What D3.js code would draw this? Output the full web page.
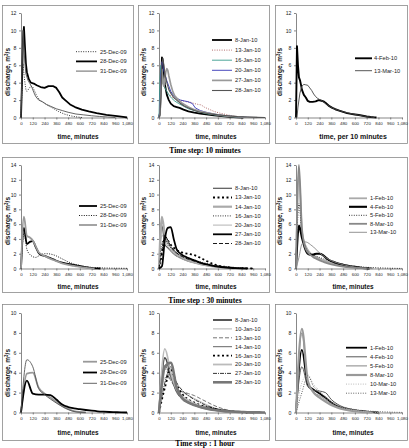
<!DOCTYPE html>
<html><head><meta charset="utf-8">
<script src="https://cdn.jsdelivr.net/npm/d3@7"></script>
<style>body{margin:0;background:#fff}</style>
</head><body>
<svg id="c" width="409" height="448"></svg>
<script>
// ---------- tick labels / texts ----------
const xTicks = [0,120,240,360,480,600,720,840,960,1080];
const yTicksR1 = [0,2,4,6,8,10,12];
const yTicksR2 = [0,2,4,6,8,10,12,14];
const yTicksR3 = [0,2,4,6,8,10];
const captions = ["Time step: 10 minutes","Time step : 30 minutes","Time step : 1 hour"];
const xTitles = ["time, minutes","time, minutes","time, per 10 minutes",
                 "time, minutes","time, minutes","time, minutes",
                 "time, minutes","time, minutes","time, minutes"];

// ---------- Row 1 : 10 minute step ----------
const r1c1Names = ["25-Dec-09","28-Dec-09","31-Dec-09"];
const r1c1_25Dec = [[0,0],[10,3],[20,6.2],[30,5],[40,4],[50,3.2],[60,3.0],[80,3.3],[100,3.6],[120,3.5],[140,3.0],[160,2.5],[190,2.0],[230,1.7],[270,1.4],[320,1.1],[380,0.7],[440,0.4],[500,0.2],[560,0.08],[620,0]];
const r1c1_28Dec = [[0,0],[10,4],[20,9],[30,10.4],[40,8.2],[50,6.2],[60,5.2],[80,4.4],[100,4.0],[130,3.9],[160,3.7],[200,3.5],[240,3.4],[280,3.6],[330,3.6],[360,3.4],[390,2.9],[420,2.3],[450,2.0],[500,1.5],[550,1.2],[620,0.9],[690,0.7],[770,0.5],[870,0.3],[980,0.15],[1060,0.05],[1080,0]];
const r1c1_31Dec = [[0,0],[10,5],[20,10.0],[30,8],[40,6.2],[50,5.0],[70,4.3],[90,3.9],[110,3.5],[130,2.9],[150,2.4],[180,2.0],[220,1.8],[260,1.5],[300,1.3],[360,1.0],[420,0.8],[480,0.6],[560,0.4],[640,0.3],[720,0.2],[800,0.12],[880,0.06],[960,0]];

const r1c2Names = ["8-Jan-10","13-Jan-10","16-Jan-10","20-Jan-10","27-Jan-10","28-Jan-10"];
const r1c2_8Jan = [[0,0],[10,0.5],[20,4],[30,6.9],[40,6.5],[50,5],[60,3.8],[80,2.6],[100,2.0],[120,1.6],[150,1.3],[180,1.2],[210,1.1],[250,0.9],[300,0.7],[360,0.55],[420,0.45],[480,0.35],[560,0.25],[640,0.15],[720,0.08],[800,0.03],[860,0]];
const r1c2_13Jan = [[0,0],[10,0.5],[20,3],[30,5],[40,4.2],[50,3.8],[60,3.5],[80,3.0],[100,2.7],[130,2.4],[160,2.2],[200,2.0],[240,1.9],[280,1.8],[320,1.75],[360,1.6],[400,1.5],[430,1.45],[460,1.2],[500,1.0],[560,0.7],[620,0.5],[680,0.35],[740,0.2],[800,0.1],[860,0.05],[940,0]];
const r1c2_16Jan = [[0,0],[10,4.5],[20,6.0],[30,5.0],[40,4.0],[60,3.4],[80,3.0],[100,2.6],[130,2.2],[160,1.9],[200,1.6],[250,1.3],[300,1.0],[360,0.8],[420,0.6],[500,0.4],[600,0.25],[700,0.12],[800,0.05],[900,0]];
const r1c2_20Jan = [[0,0],[10,1],[20,5],[30,6.4],[40,6.0],[50,5.3],[60,5.0],[80,4.2],[100,3.6],[120,3.0],[150,2.5],[180,2.2],[220,2.0],[260,1.9],[300,1.8],[340,1.6],[370,1.1],[420,0.8],[480,0.6],[560,0.4],[640,0.25],[720,0.15],[800,0.08],[900,0.02],[960,0]];
const r1c2_27Jan = [[0,0],[10,0.3],[20,3],[30,5.5],[40,4.0],[50,3.6],[60,4.5],[70,5.3],[80,5.6],[90,5.4],[100,4.8],[120,3.8],[140,3.0],[160,2.5],[200,2.0],[240,1.6],[300,1.2],[360,0.9],[420,0.7],[500,0.5],[600,0.3],[700,0.15],[800,0.08],[900,0.03],[1000,0]];
const r1c2_28Jan = [[0,0],[10,0.3],[20,2.5],[30,6.2],[40,6.8],[50,6.0],[60,5.0],[80,4.0],[100,3.2],[120,2.8],[150,2.3],[180,2.0],[220,1.6],[260,1.3],[300,1.1],[360,0.8],[420,0.6],[500,0.45],[600,0.3],[700,0.2],[800,0.1],[900,0.05],[1000,0.02],[1080,0]];

const r1c3Names = ["4-Feb-10","13-Mar-10"];
const r1c3_4Feb = [[0,0],[10,8.2],[20,6],[30,4.6],[40,4.3],[50,3.8],[60,3.2],[80,2.6],[100,2.3],[120,1.9],[140,1.8],[170,1.8],[200,1.85],[230,2.0],[250,1.95],[280,1.85],[300,1.7],[320,1.5],[340,1.3],[370,1.1],[400,0.95],[440,0.8],[480,0.65],[520,0.5],[560,0.42],[600,0.35],[640,0.28],[680,0.2],[720,0.12],[760,0.06],[800,0.02],[820,0]];
const r1c3_13Mar = [[0,0],[10,0],[20,1.2],[40,2.8],[60,3.6],[80,3.8],[100,3.75],[120,3.7],[140,3.4],[160,3.1],[180,2.7],[200,2.4],[220,2.2],[250,2.0],[280,1.8],[310,1.5],[340,1.3],[370,1.1],[400,0.95],[440,0.8],[480,0.65],[520,0.55],[560,0.45],[600,0.35],[640,0.27],[680,0.18],[720,0.1],[760,0.05],[800,0]];

// ---------- Row 2 : 30 minute step ----------
const r2c1Names = ["25-Dec-09","28-Dec-09","31-Dec-09"];
const r2c1_25Dec = [[0,0],[30,5.5],[60,3.3],[90,3.6],[120,3.7],[150,2.9],[180,2.1],[210,1.8],[240,1.7],[270,1.55],[300,1.4],[330,1.25],[360,1.05],[390,0.9],[420,0.8],[450,0.7],[480,0.62],[510,0.55],[540,0.48],[570,0.4],[600,0.32],[630,0.25],[660,0.18],[690,0.12],[720,0.07],[750,0.03],[780,0.01],[810,0]];
const r2c1_28Dec = [[0,0],[30,4.8],[60,2.6],[90,1.9],[120,1.6],[150,1.5],[180,1.7],[210,1.9],[240,2.0],[270,2.0],[300,1.95],[330,1.85],[360,1.7],[390,1.5],[420,1.3],[450,1.1],[480,0.9],[510,0.75],[540,0.6],[570,0.5],[600,0.4],[630,0.32],[660,0.25],[690,0.2],[720,0.15],[780,0.1],[840,0.07],[900,0.05],[960,0.04],[1020,0.03],[1080,0.02]];
const r2c1_31Dec = [[0,0],[30,7.0],[60,4.4],[90,4.2],[120,3.8],[150,3.0],[180,2.2],[210,1.9],[240,1.7],[270,1.5],[300,1.3],[330,1.15],[360,1.0],[390,0.85],[420,0.7],[450,0.6],[480,0.5],[510,0.42],[540,0.35],[570,0.28],[600,0.22],[630,0.15],[660,0.1],[690,0.05],[720,0.02],[750,0]];

const r2c2Names = ["8-Jan-10","13-Jan-10","14-Jan-10","16-Jan-10","20-Jan-10","27-Jan-10","28-Jan-10"];
const r2c2_8Jan = [[0,0],[30,5.8],[60,3.2],[90,2.8],[120,2.4],[150,2.0],[180,1.7],[210,1.5],[240,1.3],[270,1.15],[300,1.0],[330,0.9],[360,0.8],[420,0.6],[480,0.45],[540,0.33],[600,0.23],[660,0.15],[720,0.09],[780,0.05],[840,0.02],[900,0]];
const r2c2_13Jan = [[0,0],[30,2.0],[60,4.2],[90,3.8],[120,3.2],[150,2.8],[180,2.5],[210,2.3],[240,2.15],[270,2.05],[300,2.0],[330,1.9],[360,1.8],[390,1.65],[420,1.45],[450,1.25],[480,1.05],[510,0.85],[540,0.68],[570,0.52],[600,0.4],[660,0.25],[720,0.15],[780,0.08],[840,0.04],[900,0.02],[960,0]];
const r2c2_14Jan = [[0,0],[30,7.0],[60,4.5],[90,3.5],[120,2.9],[150,2.4],[180,2.0],[210,1.7],[240,1.5],[270,1.3],[300,1.1],[360,0.85],[420,0.62],[480,0.45],[540,0.32],[600,0.22],[660,0.14],[720,0.08],[780,0.04],[840,0]];
const r2c2_16Jan = [[0,0],[30,3.5],[60,4.0],[90,3.4],[120,2.8],[150,2.4],[180,2.1],[210,1.9],[240,1.7],[270,1.55],[300,1.4],[360,1.15],[420,0.9],[480,0.7],[540,0.52],[600,0.38],[660,0.27],[720,0.18],[780,0.12],[840,0.07],[900,0.04],[960,0]];
const r2c2_20Jan = [[0,0],[30,4.5],[60,3.8],[90,3.0],[120,2.4],[150,2.0],[180,1.7],[210,1.45],[240,1.25],[270,1.1],[300,0.95],[360,0.72],[420,0.52],[480,0.38],[540,0.27],[600,0.18],[660,0.11],[720,0.06],[780,0.02],[840,0]];
const r2c2_27Jan = [[0,0],[30,0.3],[60,4.0],[90,5.5],[120,5.6],[150,4.0],[180,2.6],[210,2.1],[240,1.8],[270,1.6],[300,1.4],[330,1.25],[360,1.1],[390,0.95],[420,0.8],[480,0.58],[540,0.4],[600,0.27],[660,0.17],[720,0.1],[780,0.05],[840,0.02],[900,0]];
const r2c2_28Jan = [[0,0],[30,2.5],[60,4.5],[90,3.8],[120,3.0],[150,2.5],[180,2.1],[210,1.8],[240,1.6],[270,1.4],[300,1.25],[360,1.0],[420,0.75],[480,0.55],[540,0.4],[600,0.28],[660,0.18],[720,0.11],[780,0.06],[840,0.03],[900,0]];

const r2c3Names = ["1-Feb-10","4-Feb-10","5-Feb-10","8-Mar-10","13-Mar-10"];
const r2c3_1Feb = [[0,0],[30,12.8],[60,5.0],[90,3.3],[120,2.5],[150,2.0],[180,1.7],[210,1.5],[240,1.3],[270,1.15],[300,1.0],[360,0.75],[420,0.55],[480,0.4],[540,0.28],[600,0.18],[660,0.1],[720,0.05],[780,0]];
const r2c3_4Feb = [[0,0],[30,5.8],[60,4.2],[90,2.8],[120,2.0],[150,1.85],[180,1.9],[210,2.0],[240,2.0],[270,1.85],[300,1.5],[330,1.2],[360,1.0],[390,0.85],[420,0.7],[450,0.6],[480,0.5],[540,0.35],[600,0.22],[660,0.1],[720,0.03],[750,0]];
const r2c3_5Feb = [[0,0],[30,8.8],[60,4.5],[90,3.0],[120,2.3],[150,2.0],[180,1.8],[210,1.65],[240,1.5],[270,1.35],[300,1.2],[360,0.95],[420,0.75],[480,0.55],[540,0.4],[600,0.3],[660,0.22],[720,0.16],[780,0.12],[840,0.09],[900,0.06],[960,0.04],[1020,0.02],[1080,0.01]];
const r2c3_8Mar = [[0,0],[30,14],[60,5.5],[90,3.0],[120,2.2],[150,1.8],[180,1.5],[210,1.3],[240,1.1],[270,0.95],[300,0.8],[360,0.55],[420,0.38],[480,0.25],[540,0.15],[600,0.08],[660,0.04],[720,0]];
const r2c3_13Mar = [[0,0],[30,1.5],[60,3.3],[90,3.6],[120,3.5],[150,3.2],[180,2.9],[210,2.5],[240,2.1],[270,1.8],[300,1.5],[330,1.25],[360,1.05],[420,0.75],[480,0.5],[540,0.33],[600,0.2],[660,0.1],[720,0.04],[780,0]];

// ---------- Row 3 : 1 hour step ----------
const r3c1Names = ["25-Dec-09","28-Dec-09","31-Dec-09"];
const r3c1_25Dec = [[0,0],[60,3.9],[120,4.0],[180,2.5],[240,1.9],[300,1.5],[360,1.05],[420,0.65],[480,0.35],[540,0.15],[600,0.05],[660,0]];
const r3c1_28Dec = [[0,0],[60,3.2],[120,1.9],[180,1.8],[240,1.8],[300,1.75],[360,1.3],[420,0.8],[480,0.55],[540,0.42],[600,0.33],[660,0.25],[720,0.18],[780,0.12],[840,0.08],[900,0.05],[960,0.03],[1020,0.01],[1080,0]];
const r3c1_31Dec = [[0,0],[60,5.3],[120,4.6],[180,2.4],[240,1.8],[300,1.35],[360,0.95],[420,0.6],[480,0.3],[540,0.1],[600,0.02],[660,0]];

const r3c2Names = ["8-Jan-10","10-Jan-10","13-Jan-10","14-Jan-10","16-Jan-10","20-Jan-10","27-Jan-10","28-Jan-10"];
const r3c2_8Jan = [[0,0],[60,5.5],[120,3.8],[180,2.2],[240,1.5],[300,1.1],[360,0.85],[420,0.65],[480,0.5],[540,0.38],[600,0.28],[660,0.2],[720,0.14],[780,0.09],[840,0.05],[900,0.02],[960,0]];
const r3c2_10Jan = [[0,0],[60,3.5],[120,3.4],[180,2.5],[240,2.0],[300,1.7],[360,1.4],[420,1.1],[480,0.8],[540,0.55],[600,0.35],[660,0.2],[720,0.1],[780,0.05],[840,0]];
const r3c2_13Jan = [[0,0],[60,4.4],[120,3.2],[180,2.4],[240,2.1],[300,1.9],[360,1.7],[420,1.4],[480,1.1],[540,0.8],[600,0.55],[660,0.35],[720,0.2],[780,0.1],[840,0.05],[900,0]];
const r3c2_14Jan = [[0,0],[60,4.7],[120,3.5],[180,2.0],[240,1.3],[300,0.95],[360,0.7],[420,0.5],[480,0.35],[540,0.25],[600,0.17],[660,0.1],[720,0.05],[780,0]];
const r3c2_16Jan = [[0,0],[60,2.5],[120,4.3],[180,2.8],[240,1.8],[300,1.3],[360,1.0],[420,0.75],[480,0.55],[540,0.4],[600,0.3],[660,0.2],[720,0.12],[780,0.07],[840,0.03],[900,0]];
const r3c2_20Jan = [[0,0],[60,6.4],[120,4.0],[180,2.3],[240,1.6],[300,1.2],[360,0.9],[420,0.65],[480,0.45],[540,0.3],[600,0.2],[660,0.12],[720,0.06],[780,0.02],[840,0]];
const r3c2_27Jan = [[0,0],[60,3.0],[120,4.6],[180,3.0],[240,2.2],[300,1.7],[360,1.3],[420,1.0],[480,0.7],[540,0.5],[600,0.33],[660,0.2],[720,0.12],[780,0.06],[840,0.02],[900,0]];
const r3c2_28Jan = [[0,0],[60,4.6],[120,5.0],[180,2.5],[240,1.4],[300,1.0],[360,0.75],[420,0.55],[480,0.4],[540,0.28],[600,0.2],[660,0.14],[720,0.1],[780,0.07],[840,0.05],[900,0.03],[960,0.02],[1020,0.01],[1080,0]];

const r3c3Names = ["1-Feb-10","4-Feb-10","5-Feb-10","8-Mar-10","10-Mar-10","13-Mar-10"];
const r3c3_1Feb = [[0,0],[60,6.3],[120,2.8],[180,2.3],[240,1.9],[300,1.5],[360,1.0],[420,0.65],[480,0.45],[540,0.32],[600,0.22],[660,0.15],[720,0.08],[780,0.03],[840,0]];
const r3c3_4Feb = [[0,0],[60,4.6],[120,2.6],[180,2.2],[240,2.15],[300,2.0],[360,1.3],[420,0.85],[480,0.55],[540,0.38],[600,0.26],[660,0.16],[720,0.08],[780,0.03],[840,0]];
const r3c3_5Feb = [[0,0],[60,8.0],[120,3.0],[180,2.0],[240,1.7],[300,1.3],[360,0.9],[420,0.6],[480,0.4],[540,0.27],[600,0.17],[660,0.1],[720,0.05],[780,0]];
const r3c3_8Mar = [[0,0],[60,8.4],[120,3.2],[180,2.0],[240,1.5],[300,1.1],[360,0.75],[420,0.5],[480,0.33],[540,0.22],[600,0.13],[660,0.07],[720,0.03],[780,0]];
const r3c3_10Mar = [[0,0],[60,3.0],[120,3.8],[180,2.8],[240,2.2],[300,1.6],[360,1.1],[420,0.75],[480,0.5],[540,0.33],[600,0.22],[660,0.14],[720,0.08],[780,0.04],[840,0]];
const r3c3_13Mar = [[0,0],[60,2.0],[120,3.7],[180,2.6],[240,2.1],[300,1.5],[360,1.05],[420,0.75],[480,0.55],[540,0.4],[600,0.3],[660,0.22],[720,0.16],[780,0.12],[840,0.09],[900,0.06],[960,0.04],[1020,0.02],[1080,0.01]];

// ---------- styles (kept apart from data) ----------
const S = (c,w,d) => ({c,w,d:d||null});
const dot = "1,1.4";
const styleR1C1 = [S("#000",0.8,dot),S("#000",1.8),S("#555",0.9)];
const styleR1C2 = [S("#000",1.8),S("#a04848",0.8,dot),S("#3a9c8c",0.9),S("#3535b5",0.9),S("#9a9a9a",1.7),S("#555",1.1)];
const styleR1C3 = [S("#000",1.9),S("#444",0.9)];
const styleR2C1 = [S("#000",1.8),S("#000",0.9,dot),S("#9a9a9a",1.8)];
const styleR2C2 = [S("#555",1.2),S("#000",1.8,"2,2.5"),S("#aaa",2.2),S("#000",0.8,dot),S("#aaa",0.9),S("#000",1.8),S("#000",0.9,"4,2")];
const styleR2C3 = [S("#aaa",1.8),S("#000",2.1),S("#000",0.8,dot),S("#888",1.8),S("#888",0.9)];
const styleR3C1 = [S("#999",1.8),S("#000",1.8),S("#555",0.9)];
const styleR3C2 = [S("#444",1.8),S("#aaa",0.9),S("#666",0.9,"4,2"),S("#555",0.9),S("#000",1.8,"2,2.5"),S("#bbb",1.8),S("#000",0.8,"4,1,1,1"),S("#777",2.6)];
const styleR3C3 = [S("#000",1.8),S("#444",0.9),S("#777",0.9),S("#999",2.2),S("#bbb",1,dot),S("#666",1,dot)];

// ---------- layout ----------
const colPlot = [[21,127],[159,265],[296,402]];
const colBorder = [[2,133],[138,269],[275,407]];
const rowPlot = [[13,117.5],[165,268.5],[313,412.5]];
const rowBorder = [[5,143],[157,292],[304,440]];
const yTitleX = [7.5,144,280];
const yTitleY = [72,221,373];
const xTitleY = [137,287,432.5];
const captionY = [150,300,443.8];

const panels = [
  {r:0,c:0,names:r1c1Names,series:[r1c1_25Dec,r1c1_28Dec,r1c1_31Dec],styles:styleR1C1,yTicks:yTicksR1,leg:{x1:76,x2:97,tx:100,y0:51.7,dy:9.7}},
  {r:0,c:1,names:r1c2Names,series:[r1c2_8Jan,r1c2_13Jan,r1c2_16Jan,r1c2_20Jan,r1c2_27Jan,r1c2_28Jan],styles:styleR1C2,yTicks:yTicksR1,leg:{x1:212,x2:232,tx:235,y0:40,dy:10.1}},
  {r:0,c:2,names:r1c3Names,series:[r1c3_4Feb,r1c3_13Mar],styles:styleR1C3,yTicks:yTicksR1,leg:{x1:355,x2:372,tx:374,y0:58.3,dy:12.4}},
  {r:1,c:0,names:r2c1Names,series:[r2c1_25Dec,r2c1_28Dec,r2c1_31Dec],styles:styleR2C1,yTicks:yTicksR2,leg:{x1:79,x2:97,tx:100,y0:206,dy:9.5}},
  {r:1,c:1,names:r2c2Names,series:[r2c2_8Jan,r2c2_13Jan,r2c2_14Jan,r2c2_16Jan,r2c2_20Jan,r2c2_27Jan,r2c2_28Jan],styles:styleR2C2,yTicks:yTicksR2,leg:{x1:213,x2:232,tx:235,y0:188.3,dy:9.2}},
  {r:1,c:2,names:r2c3Names,series:[r2c3_1Feb,r2c3_4Feb,r2c3_5Feb,r2c3_8Mar,r2c3_13Mar],styles:styleR2C3,yTicks:yTicksR2,leg:{x1:349,x2:367,tx:370,y0:198.3,dy:8.5}},
  {r:2,c:0,names:r3c1Names,series:[r3c1_25Dec,r3c1_28Dec,r3c1_31Dec],styles:styleR3C1,yTicks:yTicksR3,leg:{x1:83,x2:97,tx:100,y0:361.7,dy:10.8}},
  {r:2,c:1,names:r3c2Names,series:[r3c2_8Jan,r3c2_10Jan,r3c2_13Jan,r3c2_14Jan,r3c2_16Jan,r3c2_20Jan,r3c2_27Jan,r3c2_28Jan],styles:styleR3C2,yTicks:yTicksR3,leg:{x1:213,x2:232,tx:235,y0:320,dy:8.9}},
  {r:2,c:2,names:r3c3Names,series:[r3c3_1Feb,r3c3_4Feb,r3c3_5Feb,r3c3_8Mar,r3c3_10Mar,r3c3_13Mar],styles:styleR3C3,yTicks:yTicksR3,leg:{x1:346,x2:367,tx:370,y0:347.7,dy:9.1}}
];

const svg = d3.select("#c");
svg.append("rect").attr("width",409).attr("height",448).attr("fill","#fff");
const SANS = "'Liberation Sans', Arial, sans-serif";
const SERIF = "'Liberation Serif', 'Times New Roman', serif";

panels.forEach((p,i) => {
  const [bx0,bx1] = colBorder[p.c], [by0,by1] = rowBorder[p.r];
  svg.append("rect").attr("x",bx0+0.5).attr("y",by0+0.5).attr("width",bx1-bx0).attr("height",by1-by0)
     .attr("fill","#fff").attr("stroke","#8a8a8a").attr("stroke-width",0.8);

  const yMax = d3.max(p.yTicks);
  const x = d3.scaleLinear().domain([0,1080]).range(colPlot[p.c]);
  const y = d3.scaleLinear().domain([0,yMax]).range([rowPlot[p.r][1],rowPlot[p.r][0]]);
  const g = svg.append("g");

  const ax = g.append("g").attr("transform",`translate(0,${y(0)})`)
    .call(d3.axisBottom(x).tickValues(xTicks).tickSize(2).tickSizeOuter(0).tickPadding(2));
  ax.selectAll("text").attr("font-size",4.4).attr("font-family",SANS).attr("fill","#222");
  const ay = g.append("g").attr("transform",`translate(${x(0)},0)`)
    .call(d3.axisLeft(y).tickValues(p.yTicks).tickSize(2).tickSizeOuter(0).tickPadding(2.5));
  ay.selectAll("text").attr("font-size",5.2).attr("font-family",SANS).attr("fill","#222");
  g.selectAll(".domain, .tick line").attr("stroke","#555").attr("stroke-width",0.7);

  const curve = p.r===0 ? d3.curveLinear : d3.curveMonotoneX;
  const line = d3.line().x(d=>x(d[0])).y(d=>y(d[1])).curve(curve);
  p.series.forEach((s,k) => {
    const st = p.styles[k];
    g.append("path").attr("d",line(s)).attr("fill","none")
      .attr("stroke",st.c).attr("stroke-width",st.w)
      .attr("stroke-dasharray",st.d).attr("stroke-linejoin","round");
  });

  // legend
  p.names.forEach((n,k) => {
    const st = p.styles[k], yy = p.leg.y0 + k*p.leg.dy;
    g.append("line").attr("x1",p.leg.x1).attr("x2",p.leg.x2).attr("y1",yy).attr("y2",yy)
      .attr("stroke",st.c).attr("stroke-width",st.w).attr("stroke-dasharray",st.d);
    g.append("text").attr("x",p.leg.tx).attr("y",yy).attr("dy","0.35em")
      .attr("font-size",5.7).attr("font-family",SANS).attr("fill","#222").text(n);
  });

  // axis titles
  const xc = (colPlot[p.c][0]+colPlot[p.c][1])/2 + 4;
  g.append("text").attr("x",xc).attr("y",xTitleY[p.r]).attr("dy","0.35em")
    .attr("text-anchor","middle").attr("font-size", i===2 ? 7 : 6.4).attr("font-weight","bold")
    .attr("font-family",SANS).attr("fill","#111").text(xTitles[i]);
  const yt = g.append("text").attr("transform",`translate(${yTitleX[p.c]},${yTitleY[p.r]}) rotate(-90)`)
    .attr("dy","0.35em").attr("text-anchor","middle").attr("font-size",6.5).attr("font-weight","bold")
    .attr("font-family",SANS).attr("fill","#111");
  yt.append("tspan").text("discharge, m");
  yt.append("tspan").attr("dy",-2.2).attr("font-size",4.5).text("3");
  yt.append("tspan").attr("dy",2.2).text("/s");
});

captions.forEach((c,r) => {
  svg.append("text").attr("x",205).attr("y",captionY[r]).attr("dy","0.35em")
    .attr("text-anchor","middle").attr("font-size",7.6).attr("font-weight","bold")
    .attr("font-family",SERIF).attr("fill","#000").text(c);
});
</script>
</body></html>
